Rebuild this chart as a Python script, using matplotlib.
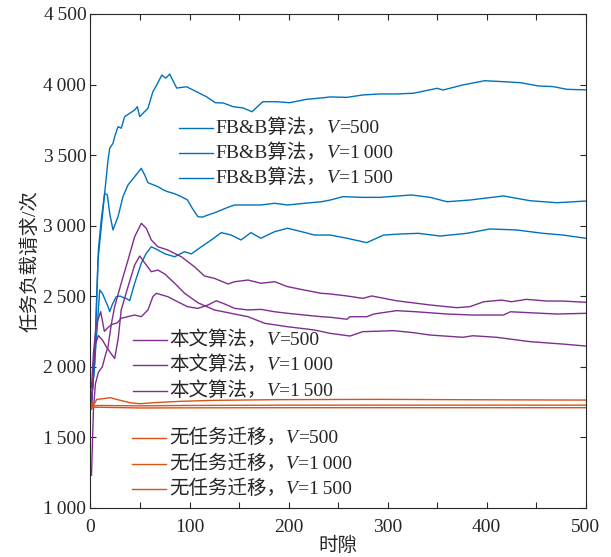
import matplotlib
matplotlib.use('Agg')
import matplotlib.pyplot as plt
from matplotlib.ticker import MultipleLocator, FuncFormatter
from matplotlib.offsetbox import AnchoredOffsetbox, HPacker, TextArea, DrawingArea
from matplotlib.lines import Line2D

plt.rcParams['font.family'] = ['Liberation Serif', 'Noto Sans CJK SC', 'DejaVu Serif']
plt.rcParams['font.size'] = 14

# FB&B 算法
fbb_1_x = [1, 4, 6, 7.6, 10.9, 14.3, 17.7, 19.4, 22.7, 24.4, 27.8, 31, 34.5, 39.6, 44.6, 47.3, 49.7, 53, 58, 63,
           66.4, 72, 76, 80, 87, 97, 107, 117, 126, 134, 144, 154, 163, 174, 188, 201, 218, 235, 242, 259, 275,
           292, 309, 326, 350, 356, 376, 398, 417, 434, 452, 467, 481, 500]
fbb_1_y = [1750, 2010, 2400, 2756, 2992, 3229, 3465, 3548, 3583, 3630, 3701, 3690, 3772, 3796, 3819, 3843, 3772,
           3796, 3831, 3949, 3990, 4067, 4045, 4074, 3975, 3984, 3949, 3914, 3871, 3869, 3843, 3834, 3807, 3878,
           3878, 3871, 3895, 3906, 3912, 3909, 3926, 3933, 3933, 3938, 3973, 3961, 3997, 4027, 4020, 4013, 3990,
           3985, 3966, 3962]
fbb_2_x = [1, 4, 6, 8, 11, 14.3, 17, 19.4, 22.7, 27.8, 32.8, 37.9, 44.6, 51.3, 54.7, 58, 63, 68, 73, 78, 83, 88,
           93, 98, 103, 108.5, 113, 118.6, 125, 132, 139, 145.6, 159, 172, 186, 199, 216, 233, 242, 255, 275, 292,
           324, 343, 360, 383, 417, 444, 471, 500]
fbb_2_y = [1750, 2010, 2450, 2830, 3050, 3229, 3217, 3087, 2969, 3063, 3205, 3288, 3347, 3406, 3359, 3304, 3290,
           3276, 3255, 3240, 3230, 3217, 3200, 3181, 3120, 3063, 3060, 3075, 3090, 3110, 3130, 3146, 3146, 3146,
           3158, 3146, 3158, 3169, 3181, 3205, 3200, 3200, 3217, 3200, 3169, 3181, 3210, 3176, 3162, 3174]
fbb_3_x = [1, 4, 7, 9.3, 12, 15, 17.7, 19.4, 22, 26, 30, 33, 36, 39.6, 44.6, 51.3, 56, 61.4, 68, 75, 85, 95, 101.8,
           112, 122, 132, 142, 152, 162, 172, 186, 199, 213, 226, 242, 259, 279, 296, 312, 331, 353, 380, 403, 430,
           457, 477, 500]
fbb_3_y = [1750, 2010, 2300, 2543, 2520, 2470, 2425, 2390, 2440, 2496, 2500, 2490, 2484, 2468, 2591, 2733, 2800,
           2850, 2827, 2800, 2779, 2815, 2799, 2850, 2898, 2950, 2933, 2898, 2950, 2910, 2957, 2981, 2957, 2933,
           2933, 2910, 2879, 2933, 2940, 2945, 2926, 2945, 2976, 2969, 2945, 2933, 2910]

# 本文算法
our_1_x = [1, 3, 5, 8, 12, 15, 17.7, 21, 24.4, 31, 37.9, 44.6, 51.3, 56.3, 61.4, 68, 78, 91.7, 105, 115, 125, 139,
           145.6, 159, 172, 186, 199, 216, 233, 242, 259, 275, 284, 309, 343, 370, 383, 397, 415, 425, 440, 461,
           477, 500]
our_1_y = [1230, 1700, 1880, 1960, 2000, 2080, 2141, 2300, 2425, 2591, 2756, 2921, 3016, 2981, 2898, 2850, 2827,
           2779, 2708, 2643, 2626, 2586, 2602, 2614, 2591, 2602, 2567, 2543, 2520, 2515, 2501, 2484, 2501, 2467,
           2437, 2418, 2425, 2460, 2472, 2460, 2477, 2465, 2465, 2456]
our_2_x = [1, 3, 6, 10.3, 14, 18, 22, 27, 31, 44.6, 51.3, 58, 63, 66.4, 78, 88, 98, 108.5, 118.6, 127, 135.5,
           145.6, 159, 172, 186, 199, 216, 233, 242, 259, 262, 279, 286, 309, 329, 360, 386, 417, 424, 444, 471, 500]
our_2_y = [1850, 2100, 2300, 2390, 2250, 2280, 2300, 2310, 2343, 2366, 2354, 2402, 2496, 2520, 2496, 2460, 2425,
           2413, 2437, 2467, 2444, 2413, 2402, 2406, 2389, 2378, 2366, 2354, 2350, 2336, 2354, 2354, 2373, 2397,
           2389, 2373, 2366, 2366, 2389, 2382, 2373, 2378]
our_3_x = [1, 3, 5, 8, 12, 16, 20, 24.4, 28, 31, 37.9, 44.6, 49.7, 56.3, 61.4, 68, 75, 85, 95, 108.5, 125, 142,
           159, 176, 199, 226, 242, 262, 275, 306, 326, 343, 376, 386, 410, 444, 477, 500]
our_3_y = [1700, 2000, 2160, 2220, 2190, 2140, 2100, 2058, 2200, 2402, 2567, 2721, 2784, 2721, 2673, 2685, 2657,
           2591, 2520, 2453, 2402, 2378, 2354, 2307, 2283, 2260, 2236, 2217, 2248, 2255, 2241, 2224, 2208, 2219,
           2208, 2177, 2160, 2146]

# 无任务迁移
nom_1_x = [1, 2, 3, 6.3, 12, 19.7, 28, 39.9, 50, 63, 90, 124, 191, 292, 400, 500]
nom_1_y = [1700, 1745, 1725, 1768, 1772, 1780, 1765, 1744, 1737, 1744, 1754, 1761, 1766, 1768, 1765, 1763]
nom_2_x = [1, 2, 3, 10, 50, 100, 200, 500]
nom_2_y = [1700, 1745, 1722, 1725, 1722, 1725, 1727, 1727]
nom_3_x = [1, 2, 3, 10, 50, 100, 200, 500]
nom_3_y = [1700, 1735, 1712, 1712, 1707, 1708, 1709, 1709]

v_labels = ['500', '1\u2009000', '1\u2009500']
blue = '#0072BD'
purple = '#7E2F8E'
orange = '#D95319'
dark = '#262626'

fig = plt.figure(figsize=(6.11, 5.57), dpi=100)
ax = fig.add_axes([0.1481, 0.0885, 0.8105, 0.8864])

for xs, ys in [(fbb_1_x, fbb_1_y), (fbb_2_x, fbb_2_y), (fbb_3_x, fbb_3_y)]:
    ax.plot(xs, ys, color=blue, linewidth=1)
for xs, ys in [(our_1_x, our_1_y), (our_2_x, our_2_y), (our_3_x, our_3_y)]:
    ax.plot(xs, ys, color=purple, linewidth=1)
for xs, ys in [(nom_1_x, nom_1_y), (nom_2_x, nom_2_y), (nom_3_x, nom_3_y)]:
    ax.plot(xs, ys, color=orange, linewidth=1)

ax.set_xlim(0, 500)
ax.set_ylim(1000, 4500)
ax.xaxis.set_major_locator(MultipleLocator(100))
ax.xaxis.set_minor_locator(MultipleLocator(50))
ax.yaxis.set_major_locator(MultipleLocator(500))
fmt = FuncFormatter(lambda v, p: f'{int(v):,}'.replace(',', '\u2009'))
ax.xaxis.set_major_formatter(fmt)
ax.yaxis.set_major_formatter(fmt)
ax.tick_params(which='both', direction='in', top=True, right=True, length=4, width=0.8,
               color=dark, labelsize=14, labelcolor=dark, pad=3)
ax.tick_params(axis='x', which='major', pad=8)
for s in ax.spines.values():
    s.set_color(dark)
    s.set_linewidth(0.8)

ax.set_xlabel('时隙', fontsize=14, color=dark, labelpad=1)
ax.set_ylabel('任务负载请求/次', fontsize=14, color=dark, labelpad=3)


def legend_row(color, name, v, x, y):
    da = DrawingArea(24.5, 10, 0, 0)
    da.add_artist(Line2D([0, 24.5], [5, 5], color=color, linewidth=1))
    tp = dict(size=14, color=dark)
    txt = HPacker(children=[TextArea(name + '，', textprops=tp),
                            TextArea('V', textprops=dict(tp, style='italic')),
                            TextArea('=' + v, textprops=tp)],
                  align='baseline', pad=0, sep=0)
    row = HPacker(children=[da, txt], align='center', pad=0, sep=2)
    box = AnchoredOffsetbox(loc='center left', child=row, pad=0, borderpad=0, frameon=False,
                            bbox_to_anchor=(x, y), bbox_transform=ax.transAxes)
    ax.add_artist(box)


for v, y in zip(v_labels, [0.7691, 0.7185, 0.6678]):
    legend_row(blue, 'FB&B算法', v, 0.1787, y)
for v, y in zip(v_labels, [0.3397, 0.2891, 0.2364]):
    legend_row(purple, '本文算法', v, 0.0858, y)
for v, y in zip(v_labels, [0.1412, 0.0885, 0.0379]):
    legend_row(orange, '无任务迁移', v, 0.0838, y)

fig.savefig('out.png', dpi=100)
